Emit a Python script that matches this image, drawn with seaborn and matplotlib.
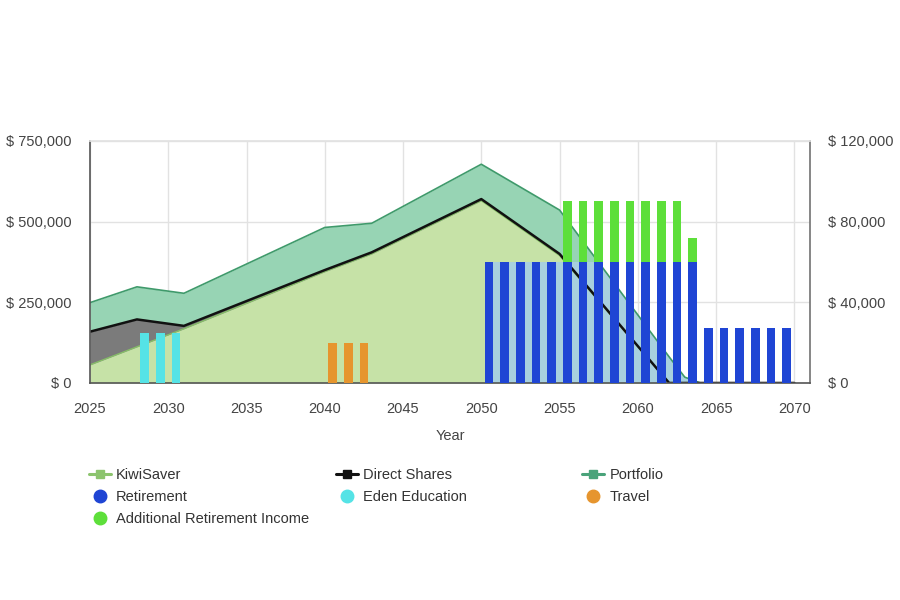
import numpy as np
import pandas as pd
import matplotlib
matplotlib.use("Agg")
import matplotlib.pyplot as plt
import seaborn as sns
from matplotlib.lines import Line2D
from matplotlib.patches import Rectangle
from matplotlib.ticker import FuncFormatter

# ---------------- data ----------------
area_years = [2025, 2028, 2031, 2040, 2043, 2050, 2055, 2062, 2063, 2064, 2070]
kiwisaver = [56000, 112000, 168000, 345000, 400000, 565000, 395000, 0, 0, 0, 0]
direct_shares = [103000, 85000, 9000, 5000, 5000, 5000, 5000, 0, 0, 0, 0]
portfolio = [90000, 101000, 101000, 132000, 90000, 108000, 136000, 81000, 18000, 0, 0]

retirement_years = [2050, 2051, 2052, 2053, 2054, 2055, 2056, 2057, 2058, 2059,
                    2060, 2061, 2062, 2063, 2064, 2065, 2066, 2067, 2068, 2069]
retirement = [60000, 60000, 60000, 60000, 60000, 60000, 60000, 60000, 60000, 60000,
              60000, 60000, 60000, 60000, 27500, 27500, 27500, 27500, 27500, 27500]

additional_years = [2055, 2056, 2057, 2058, 2059, 2060, 2061, 2062, 2063]
additional = [30000, 30000, 30000, 30000, 30000, 30000, 30000, 30000, 12000]

education_years = [2028, 2029, 2030]
education = [25000, 25000, 25000]

travel_years = [2040, 2041, 2042]
travel = [20000, 20000, 20000]

left_ticks = [0, 250000, 500000, 750000]
right_ticks = [0, 40000, 80000, 120000]
x_ticks = [2025, 2030, 2035, 2040, 2045, 2050, 2055, 2060, 2065, 2070]

# ---------------- style ----------------
sns.set_theme(style="white")
plt.rcParams["font.family"] = ["Liberation Sans", "DejaVu Sans"]
TXT = "#444444"

C_KIWI = "#c6e2a7"
C_KIWI_LINE = "#86bf66"
C_DIRECT = "#7b7b7b"
C_PORT = "#97d4b4"
C_PORT_LINE = "#3f9a6b"
C_RET = "#1f45d4"
C_EDU = "#55e3e6"
C_TRAVEL = "#e6952e"
C_ADD = "#5ddf3a"
C_BAND = "#a8d0de"

df = pd.DataFrame({"year": area_years, "kiwi": kiwisaver,
                   "direct": direct_shares, "port": portfolio})
df["l1"] = df["kiwi"]
df["l2"] = df["l1"] + df["direct"]
df["l3"] = df["l2"] + df["port"]

fig = plt.figure(figsize=(9, 6), dpi=100)
ax = fig.add_axes([0.1, 0.3617, 0.8, 0.4033])

# stacked areas
ax.fill_between(df["year"], 0, df["l1"], color=C_KIWI, lw=0, zorder=1)
ax.fill_between(df["year"], df["l1"], df["l2"], color=C_DIRECT, lw=0, zorder=1)
ax.fill_between(df["year"], df["l2"], df["l3"], color=C_PORT, lw=0, zorder=1)
full_poly = ax.fill_between(df["year"], 0, df["l3"], color="none", lw=0, zorder=0)

# light band behind retirement columns inside the area
scale = left_ticks[-1] / right_ticks[-1]
bar_w = 0.55
band_left = retirement_years[0] + 0.5 - bar_w / 2
band = Rectangle((band_left, 0), 2064 - band_left, retirement[0] * scale,
                 facecolor=C_BAND, edgecolor="none", zorder=1.5)
ax.add_patch(band)
band.set_clip_path(full_poly.get_paths()[0], ax.transData)

# series lines
sns.lineplot(data=df, x="year", y="l1", ax=ax, color=C_KIWI_LINE, lw=1.0, zorder=2, legend=False)
sns.lineplot(data=df, x="year", y="l2", ax=ax, color="#111111", lw=1.8, zorder=2.1, legend=False)
sns.lineplot(data=df, x="year", y="l3", ax=ax, color=C_PORT_LINE, lw=1.2, zorder=2, legend=False)

ax.set_xlim(2025, 2071)
ax.set_ylim(0, 750000)
ax.set_xticks(x_ticks)
ax.set_yticks(left_ticks)
ax.yaxis.set_major_formatter(FuncFormatter(lambda v, p: f"$ {v:,.0f}"))
ax.grid(True, color="#e2e2e2", lw=1)
ax.set_axisbelow(True)
ax.set_xlabel("Year", fontsize=10.5, color=TXT, labelpad=9)
ax.set_ylabel("")
ax.tick_params(axis="both", length=0, labelsize=10.5, labelcolor=TXT)
ax.tick_params(axis="x", pad=14)
ax.tick_params(axis="y", pad=13)
for s in ["left", "bottom"]:
    ax.spines[s].set_color("#555555")
    ax.spines[s].set_linewidth(1.2)
ax.spines["right"].set_color("#777777")
ax.spines["top"].set_color("#e2e2e2")

# bars on right axis
ax2 = ax.twinx()
xr = [y + 0.5 for y in retirement_years]
ax2.bar(xr, retirement, width=bar_w, color=C_RET, lw=0, zorder=3)
xa = [y + 0.5 for y in additional_years]
base_add = [retirement[retirement_years.index(y)] for y in additional_years]
ax2.bar(xa, additional, bottom=base_add, width=bar_w, color=C_ADD, lw=0, zorder=3)
ax2.bar([y + 0.5 for y in education_years], education, width=bar_w, color=C_EDU, lw=0, zorder=3)
ax2.bar([y + 0.5 for y in travel_years], travel, width=bar_w, color=C_TRAVEL, lw=0, zorder=3)
ax2.set_ylim(0, 120000)
ax2.set_yticks(right_ticks)
ax2.yaxis.set_major_formatter(FuncFormatter(lambda v, p: f"$ {v:,.0f}"))
ax2.tick_params(axis="y", length=0, labelsize=10.5, labelcolor=TXT, pad=13)
ax2.grid(False)
for s in ax2.spines.values():
    s.set_visible(False)
ax.set_xlim(2025, 2071)

# ---------------- legend ----------------
def area_handle(c):
    return Line2D([0], [0], color=c, lw=2.2, marker="s", markersize=6,
                  markerfacecolor=c, markeredgecolor=c)

def dot(c):
    return Line2D([0], [0], color="none", marker="o", markersize=9,
                  markerfacecolor=c, markeredgecolor=c)

cols = [
    (0.099, [(area_handle("#8cc46e"), "KiwiSaver"), (dot(C_RET), "Retirement"),
             (dot(C_ADD), "Additional Retirement Income")]),
    (0.373, [(area_handle("#111111"), "Direct Shares"), (dot(C_EDU), "Eden Education")]),
    (0.647, [(area_handle("#4aa37a"), "Portfolio"), (dot(C_TRAVEL), "Travel")]),
]
for xpos, items in cols:
    leg = fig.legend([h for h, _ in items], [l for _, l in items],
                     loc="upper left", bbox_to_anchor=(xpos, 0.220),
                     frameon=False, fontsize=10.5, handlelength=1.5,
                     handletextpad=0.35, labelspacing=0.56, borderpad=0,
                     borderaxespad=0)
    for t in leg.get_texts():
        t.set_color("#333333")

fig.savefig("out.png", dpi=100, facecolor="white")
